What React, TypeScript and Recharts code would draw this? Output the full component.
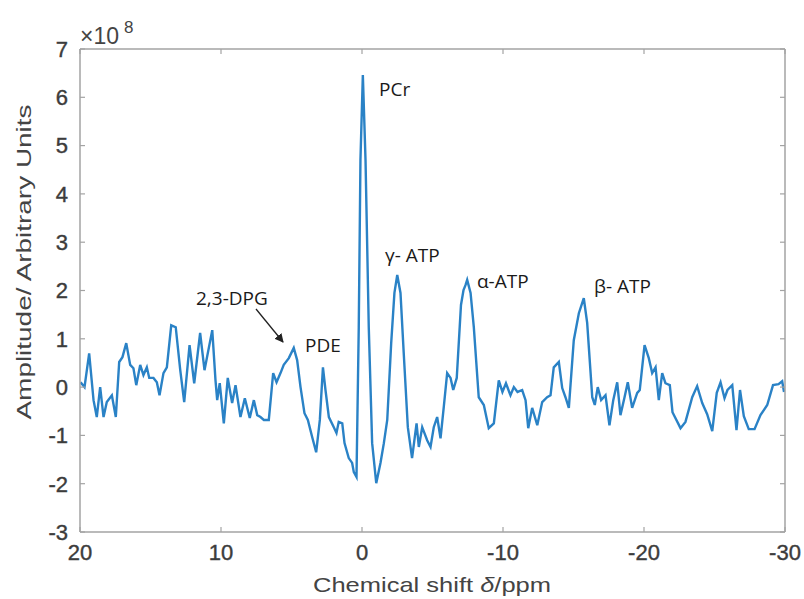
import React from 'react';
import { LineChart, Line, XAxis, YAxis } from 'recharts';

const shiftPpm = [
  19.96, 19.68, 19.35, 19.04, 18.81, 18.57, 18.33, 18.1, 17.74, 17.46,
  17.22, 16.99, 16.72, 16.44, 16.21, 16.01, 15.73, 15.5, 15.26, 15.09,
  14.79, 14.55, 14.36, 14.08, 13.84, 13.53, 13.21, 12.89, 12.61, 12.23,
  11.9, 11.48, 11.17, 10.62, 10.39, 10.27, 10.09, 9.8, 9.52, 9.21,
  8.97, 8.62, 8.31, 7.96, 7.67, 7.43, 7.2, 6.96, 6.61, 6.3,
  6.06, 5.78, 5.55, 5.19, 4.84, 4.6, 4.36, 4.08, 3.84, 3.53,
  3.25, 2.99, 2.77, 2.59, 2.35, 2.0, 1.81, 1.65, 1.4, 1.24,
  0.94, 0.7, 0.58, 0.39, 0.23, 0.11, -0.06, -0.25, -0.48, -0.72,
  -1.01, -1.31, -1.55, -1.79, -2.07, -2.3, -2.5, -2.73, -2.96, -3.25,
  -3.55, -3.87, -4.03, -4.27, -4.62, -4.86, -5.09, -5.33, -5.57, -5.8,
  -6.04, -6.28, -6.47, -6.72, -7.02, -7.2, -7.34, -7.46, -7.7, -7.93,
  -8.28, -8.64, -8.99, -9.35, -9.7, -9.96, -10.21, -10.53, -10.77, -11.03,
  -11.36, -11.6, -11.79, -12.07, -12.43, -12.78, -13.13, -13.37, -13.6, -13.96,
  -14.2, -14.43, -14.67, -15.02, -15.38, -15.73, -15.97, -16.33, -16.51, -16.72,
  -16.96, -17.27, -17.55, -17.82, -18.1, -18.33, -18.62, -18.85, -19.16, -19.52,
  -19.7, -20.04, -20.34, -20.58, -20.82, -21.05, -21.29, -21.52, -21.83, -22.02,
  -22.59, -22.94, -23.42, -23.77, -24.13, -24.48, -24.84, -25.16, -25.43, -25.71,
  -25.92, -26.26, -26.56, -26.81, -27.08, -27.43, -27.84, -28.26, -28.74, -29.15,
  -29.54, -29.8, -29.93,
];

// Amplitude in units of 1e8 (arbitrary units)
const amplitude = [
  0.1, 0.0, 0.7, -0.27, -0.62, 0.0, -0.62, -0.31, -0.17, -0.62,
  0.52, 0.62, 0.91, 0.46, 0.39, 0.04, 0.46, 0.25, 0.41, 0.19,
  0.19, 0.1, -0.17, 0.29, 0.41, 1.28, 1.24, 0.35, -0.31, 0.87,
  0.08, 1.12, 0.35, 1.18, 0.14, -0.27, 0.08, -0.75, 0.19, -0.33,
  0.04, -0.62, -0.23, -0.64, -0.27, -0.58, -0.62, -0.68, -0.68, 0.29,
  0.1, 0.29, 0.46, 0.6, 0.81, 0.56, 0.0, -0.54, -0.68, -1.04,
  -1.35, -0.68, 0.41, -0.06, -0.62, -0.83, -0.95, -0.72, -0.75, -1.16,
  -1.47, -1.57, -1.76, -1.86, 1.24, 4.7, 6.46, 4.7, 1.24, -1.16,
  -1.99, -1.57, -1.16, -0.68, 0.91, 1.95, 2.32, 1.95, 0.7, -0.83,
  -1.47, -0.75, -1.24, -0.83, -1.1, -1.24, -0.83, -0.62, -1.06, -0.41,
  0.29, 0.19, -0.06, 0.19, 1.7, 2.01, 2.11, 2.22, 1.95, 1.24,
  -0.21, -0.37, -0.85, -0.75, 0.14, -0.1, 0.08, -0.17, 0.0, -0.1,
  -0.06, -0.27, -0.85, -0.43, -0.79, -0.31, -0.21, -0.17, 0.41, 0.52,
  -0.02, -0.21, -0.43, 0.97, 1.53, 1.84, 1.33, -0.21, -0.37, 0.0,
  -0.27, -0.17, -0.79, -0.27, 0.1, -0.58, -0.21, 0.1, -0.43, -0.12,
  -0.06, 0.87, 0.6, 0.29, 0.41, -0.27, 0.29, 0.08, 0.04, -0.52,
  -0.85, -0.72, -0.21, 0.02, -0.33, -0.56, -0.91, -0.12, 0.1, -0.23,
  -0.06, 0.04, -0.89, -0.06, -0.6, -0.87, -0.87, -0.58, -0.37, 0.04,
  0.06, 0.12, -0.1,
];

const xTicks = [20, 10, 0, -10, -20, -30];
const yTicks = [-3, -2, -1, 0, 1, 2, 3, 4, 5, 6, 7];
const xDomain = [-30, 20];
const yDomain = [-3, 7];

const peakNames = ['PCr', 'γ- ATP', 'α-ATP', 'β- ATP', 'PDE', '2,3-DPG'];
// label anchor positions in page pixels (layout only)
const peakLabelPos = [
  [379, 96],
  [385, 262],
  [477, 288],
  [594, 293],
  [305, 352],
  [196, 305],
];

const xLabel = 'Chemical shift ';
const yLabel = 'Amplitude/ Arbitrary Units';

const data = shiftPpm.map((ppm, i) => ({ ppm, amp: amplitude[i] }));

const AXIS = '#a3a3a3';
const TICK_FONT = {
  fontFamily: 'Liberation Sans, Arial, sans-serif',
  fontSize: 22,
  fill: '#3c3c3c',
  stroke: '#3c3c3c',
  strokeWidth: 0.4,
};

export default function App() {
  return (
    <div style={{ position: 'absolute', left: 0, top: 0, width: 804, height: 599, background: '#fff' }}>
      <LineChart width={804} height={599} data={data} margin={{ top: 0, right: 0, bottom: 0, left: 0 }}>
        <XAxis
          xAxisId="bottom"
          type="number"
          dataKey="ppm"
          domain={xDomain}
          reversed
          ticks={xTicks}
          interval={0}
          orientation="bottom"
          height={67}
          axisLine={{ stroke: AXIS, strokeWidth: 1.5 }}
          tickLine={{ stroke: AXIS, strokeWidth: 1.2 }}
          tickSize={-5}
          tickMargin={17}
          tick={TICK_FONT}
          allowDataOverflow
        />
        <XAxis
          xAxisId="top"
          type="number"
          dataKey="ppm"
          domain={xDomain}
          reversed
          ticks={xTicks}
          interval={0}
          orientation="top"
          height={49}
          axisLine={{ stroke: AXIS, strokeWidth: 1.5 }}
          tickLine={{ stroke: AXIS, strokeWidth: 1.2 }}
          tickSize={-5}
          tickFormatter={() => ''}
          allowDataOverflow
        />
        <YAxis
          yAxisId="left"
          type="number"
          domain={yDomain}
          ticks={yTicks}
          interval={0}
          orientation="left"
          width={80}
          axisLine={{ stroke: AXIS, strokeWidth: 1.5 }}
          tickLine={{ stroke: AXIS, strokeWidth: 1.2 }}
          tickSize={-5}
          tickMargin={17}
          tick={TICK_FONT}
          allowDataOverflow
        />
        <YAxis
          yAxisId="right"
          type="number"
          domain={yDomain}
          ticks={yTicks}
          interval={0}
          orientation="right"
          width={19}
          axisLine={{ stroke: AXIS, strokeWidth: 1.5 }}
          tickLine={{ stroke: AXIS, strokeWidth: 1.2 }}
          tickSize={-5}
          tickFormatter={() => ''}
          allowDataOverflow
        />
        <Line
          xAxisId="bottom"
          yAxisId="left"
          type="linear"
          dataKey="amp"
          stroke="#2a82c6"
          strokeWidth={2.4}
          dot={false}
          isAnimationActive={false}
        />
      </LineChart>
      <svg
        width={804}
        height={599}
        style={{ position: 'absolute', left: 0, top: 0, pointerEvents: 'none' }}
      >
        <defs>
          <marker id="ah" markerWidth="9" markerHeight="9" refX="8" refY="4.5" orient="auto" markerUnits="userSpaceOnUse">
            <path d="M0,0 L9,4.5 L0,9 z" fill="#222" />
          </marker>
        </defs>
        {/* exponent */}
        <text x={80} y={44} style={{ fontFamily: 'Liberation Sans, Arial, sans-serif', fontSize: 23, fill: '#444' }}>
          ×10
        </text>
        <text x={124} y={33} style={{ fontFamily: 'Liberation Sans, Arial, sans-serif', fontSize: 17, fill: '#444' }}>
          8
        </text>
        {/* axis titles */}
        <text
          x={432}
          y={592}
          textAnchor="middle"
          textLength={238}
          lengthAdjust="spacingAndGlyphs"
          style={{ fontFamily: 'Liberation Sans, Arial, sans-serif', fontSize: 21, fill: '#444' }}
        >
          {xLabel}
          <tspan fontStyle="italic">δ</tspan>/ppm
        </text>
        <text
          x={0}
          y={0}
          transform="translate(31,262) rotate(-90)"
          textAnchor="middle"
          textLength={315}
          lengthAdjust="spacingAndGlyphs"
          style={{ fontFamily: 'Liberation Sans, Arial, sans-serif', fontSize: 21, fill: '#444' }}
        >
          {yLabel}
        </text>
        {/* peak annotations */}
        {peakNames.map((name, i) => (
          <text
            key={name}
            x={peakLabelPos[i][0]}
            y={peakLabelPos[i][1]}
            style={{ fontFamily: 'Open Sans, sans-serif', fontSize: 19, fill: '#1a1a1a' }}
          >
            {name}
          </text>
        ))}
        <line x1={256} y1={309} x2={283} y2={342} stroke="#222" strokeWidth={1.3} markerEnd="url(#ah)" />
      </svg>
    </div>
  );
}
